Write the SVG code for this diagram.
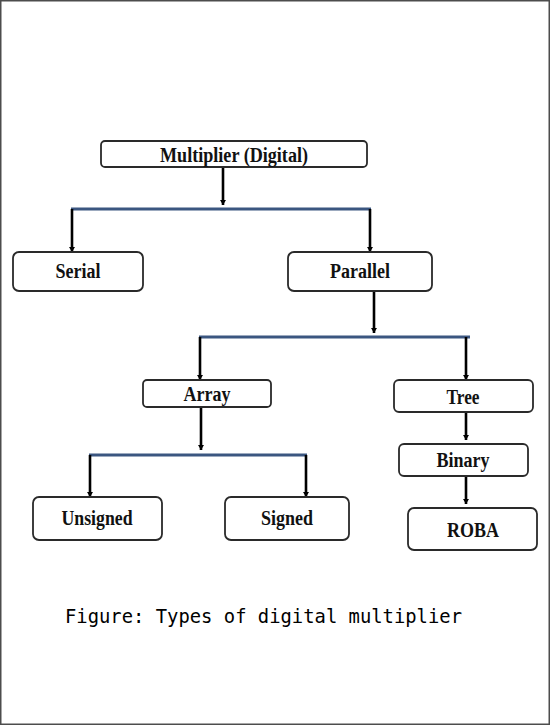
<svg xmlns="http://www.w3.org/2000/svg" width="550" height="725" viewBox="0 0 550 725">
<defs>
<marker id="ah" markerUnits="userSpaceOnUse" markerWidth="6" markerHeight="6" refX="5" refY="3" orient="auto">
<path d="M0,0 L5,3 L0,6 z" fill="#000"/>
</marker>
<style>
.box{fill:#fff;stroke:#2a2a2a;stroke-width:1.8}
.lbl{font-family:"Liberation Serif","Times New Roman",serif;font-weight:bold;font-size:20px;fill:#111;text-anchor:middle}
.arr{stroke:#000;stroke-width:2.6;fill:none;marker-end:url(#ah)}
.bus{stroke:#3b5680;stroke-width:3;fill:none}
.cap{font-family:"DejaVu Sans Mono","Liberation Mono",monospace;font-size:19px;fill:#000}
</style>
</defs>
<rect x="0.75" y="0.75" width="548.5" height="723.5" fill="#fff" stroke="#4d4d4d" stroke-width="1.5"/>
<g id="connectors">
<line class="arr" x1="223" y1="167" x2="223" y2="205"/>
<line class="bus" x1="71" y1="209" x2="371" y2="209"/>
<line class="arr" x1="72" y1="209" x2="72" y2="252"/>
<line class="arr" x1="370" y1="209" x2="370" y2="252"/>
<line class="arr" x1="374" y1="291" x2="374" y2="333"/>
<line class="bus" x1="199" y1="337" x2="470" y2="337"/>
<line class="arr" x1="200" y1="337" x2="200" y2="380"/>
<line class="arr" x1="466" y1="337" x2="466" y2="380"/>
<line class="arr" x1="201" y1="407" x2="201" y2="450"/>
<line class="bus" x1="89" y1="455" x2="307" y2="455"/>
<line class="arr" x1="90" y1="455" x2="90" y2="497"/>
<line class="arr" x1="306" y1="455" x2="306" y2="497"/>
<line class="arr" x1="466" y1="412" x2="466" y2="440"/>
<line class="arr" x1="466" y1="476" x2="466" y2="504"/>
</g>
<g id="multiplier"><rect class="box" x="101" y="141" width="266" height="26" rx="4"/><text class="lbl" x="234" y="162" textLength="148" lengthAdjust="spacingAndGlyphs">Multiplier (Digital)</text></g>
<g id="serial"><rect class="box" x="13" y="252" width="130" height="39" rx="6"/><text class="lbl" x="78" y="278" textLength="45" lengthAdjust="spacingAndGlyphs">Serial</text></g>
<g id="parallel"><rect class="box" x="288" y="252" width="144" height="39" rx="6"/><text class="lbl" x="360" y="278" textLength="60" lengthAdjust="spacingAndGlyphs">Parallel</text></g>
<g id="array"><rect class="box" x="143" y="380" width="128" height="27" rx="4"/><text class="lbl" x="207" y="401" textLength="47" lengthAdjust="spacingAndGlyphs">Array</text></g>
<g id="tree"><rect class="box" x="394" y="380" width="139" height="32" rx="5"/><text class="lbl" x="463" y="404" textLength="33" lengthAdjust="spacingAndGlyphs">Tree</text></g>
<g id="binary"><rect class="box" x="399" y="444" width="129" height="32" rx="5"/><text class="lbl" x="463" y="467" textLength="53" lengthAdjust="spacingAndGlyphs">Binary</text></g>
<g id="roba"><rect class="box" x="408" y="508" width="129" height="42" rx="6"/><text class="lbl" x="473" y="537" textLength="52" lengthAdjust="spacingAndGlyphs">ROBA</text></g>
<g id="unsigned"><rect class="box" x="33" y="497" width="129" height="43" rx="6"/><text class="lbl" x="97" y="525" textLength="71" lengthAdjust="spacingAndGlyphs">Unsigned</text></g>
<g id="signed"><rect class="box" x="225" y="497" width="124" height="43" rx="6"/><text class="lbl" x="287" y="525" textLength="52" lengthAdjust="spacingAndGlyphs">Signed</text></g>
<text class="cap" x="65" y="623" textLength="397" lengthAdjust="spacingAndGlyphs">Figure: Types of digital multiplier</text>
</svg>
